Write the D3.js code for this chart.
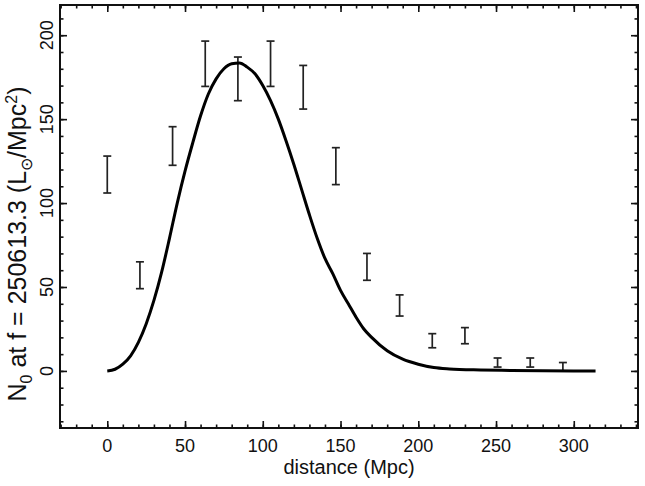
<!DOCTYPE html>
<html lang="en">
<head>
<meta charset="utf-8">
<title>N0 vs distance</title>
<script src="https://cdn.jsdelivr.net/npm/d3@7"></script>
<style>
  body { margin: 0; background: white; }
  svg { display: block; background: white; }
  text { font-family: "Liberation Sans", Arial, Helvetica, sans-serif; fill: #111; }
</style>
</head>
<body>
<div id="chart"></div>
<script>
// binned measurements (distance in Mpc, value, half error)
var binDist = [0, 21, 42, 63, 84, 105, 126, 147, 167, 188, 209, 230, 251, 272, 293];
var binVal  = [117, 57, 134, 183, 174, 183, 169, 122, 62, 39, 18, 21, 5, 5, 2.5];
var binErr  = [11, 8, 11.5, 13.5, 13, 13.5, 13, 11, 8, 6.3, 4.2, 4.8, 2.7, 2.7, 2.5];

// model curve
var curveDist = [0, 5, 10, 15, 20, 25, 30, 35, 40, 45, 50, 55, 60, 65, 70, 75, 80, 85, 90, 95,
                 100, 105, 110, 115, 120, 125, 130, 135, 140, 145, 150, 155, 160, 165, 170, 180,
                 190, 200, 210, 220, 240, 260, 280, 300, 314];
var curveVal  = [0, 1, 4, 9, 17, 28, 42, 59, 79, 100, 119, 136, 152, 165, 174, 180, 183, 183.5, 181, 177,
                 170, 161, 150, 137, 123, 108, 93, 79, 67, 58, 48, 40, 32, 25, 20, 12,
                 7, 4, 2, 1.2, 0.6, 0.3, 0.1, 0, 0];

var xMajor = [0, 50, 100, 150, 200, 250, 300];
var yMajor = [0, 50, 100, 150, 200];

var width = 645, height = 486;
var frame = {left: 60, right: 638, top: 5, bottom: 428};

var svg = d3.select("#chart").append("svg")
    .attr("width", width)
    .attr("height", height);

var x = d3.scaleLinear().domain([-30.4, 341.3]).range([frame.left, frame.right]);
var y = d3.scaleLinear().domain([-34, 218]).range([frame.bottom, frame.top]);

var xMinor = d3.range(-30, 341, 10);
var yMinor = d3.range(-30, 218, 10);

function tickAxis(axis, at, vals, size) {
  var g = svg.append("g")
      .attr("transform", at)
      .call(axis.tickValues(vals).tickSize(size).tickFormat(""));
  g.select(".domain").remove();
  g.selectAll("line").attr("stroke", "#111").attr("stroke-width", 1.6);
  return g;
}

// ticks pointing inward on all four sides
tickAxis(d3.axisBottom(x), "translate(0," + frame.bottom + ")", xMinor, -3.5);
tickAxis(d3.axisBottom(x), "translate(0," + frame.bottom + ")", xMajor, -7);
tickAxis(d3.axisTop(x), "translate(0," + frame.top + ")", xMinor, -3.5);
tickAxis(d3.axisTop(x), "translate(0," + frame.top + ")", xMajor, -7);
tickAxis(d3.axisLeft(y), "translate(" + frame.left + ",0)", yMinor, -3.5);
tickAxis(d3.axisLeft(y), "translate(" + frame.left + ",0)", yMajor, -7);
tickAxis(d3.axisRight(y), "translate(" + frame.right + ",0)", yMinor, -3.5);
tickAxis(d3.axisRight(y), "translate(" + frame.right + ",0)", yMajor, -7);

svg.append("rect")
    .attr("x", frame.left).attr("y", frame.top)
    .attr("width", frame.right - frame.left)
    .attr("height", frame.bottom - frame.top)
    .attr("fill", "none")
    .attr("stroke", "#111")
    .attr("stroke-width", 2);

// tick labels
svg.selectAll(".xlab")
  .data(xMajor)
  .enter().append("text")
    .attr("x", function(d) { return x(d); })
    .attr("y", 452)
    .attr("text-anchor", "middle")
    .style("font-size", "18px")
    .text(function(d) { return d; });

svg.selectAll(".ylab")
  .data(yMajor)
  .enter().append("text")
    .attr("transform", function(d) { return "translate(53," + y(d) + ") rotate(-90)"; })
    .attr("text-anchor", "middle")
    .style("font-size", "18px")
    .text(function(d) { return d; });

// axis titles
svg.append("text")
    .attr("x", (frame.left + frame.right) / 2)
    .attr("y", 474)
    .attr("text-anchor", "middle")
    .style("font-size", "20px")
    .text("distance (Mpc)");

var yt = svg.append("text")
    .attr("transform", "translate(26,244) rotate(-90)")
    .attr("text-anchor", "middle")
    .style("font-size", "25px");
yt.append("tspan").text("N");
yt.append("tspan").attr("dy", 6).style("font-size", "16px").text("0");
yt.append("tspan").attr("dy", -6).text(" at f = 250613.3 (L");
yt.append("tspan").attr("dy", 6).style("font-size", "16px").text("\u2299");
yt.append("tspan").attr("dy", -6).text("/Mpc");
yt.append("tspan").attr("dy", -9).style("font-size", "16px").text("2");
yt.append("tspan").attr("dy", 9).text(")");

// error bars
var bars = svg.append("g").attr("stroke", "#222").attr("stroke-width", 1.7);
binDist.forEach(function(d, i) {
  var cx = x(d), top = y(binVal[i] + binErr[i]), bot = y(binVal[i] - binErr[i]);
  bars.append("line").attr("x1", cx).attr("x2", cx).attr("y1", top).attr("y2", bot);
  bars.append("line").attr("x1", cx - 4).attr("x2", cx + 4).attr("y1", top).attr("y2", top);
  bars.append("line").attr("x1", cx - 4).attr("x2", cx + 4).attr("y1", bot).attr("y2", bot);
});

// model curve
var line = d3.line()
    .x(function(d, i) { return x(curveDist[i]); })
    .y(function(d) { return y(d); })
    .curve(d3.curveMonotoneX);

svg.append("path")
    .datum(curveVal)
    .attr("d", line)
    .attr("fill", "none")
    .attr("stroke", "#000")
    .attr("stroke-width", 3);
</script>
</body>
</html>
